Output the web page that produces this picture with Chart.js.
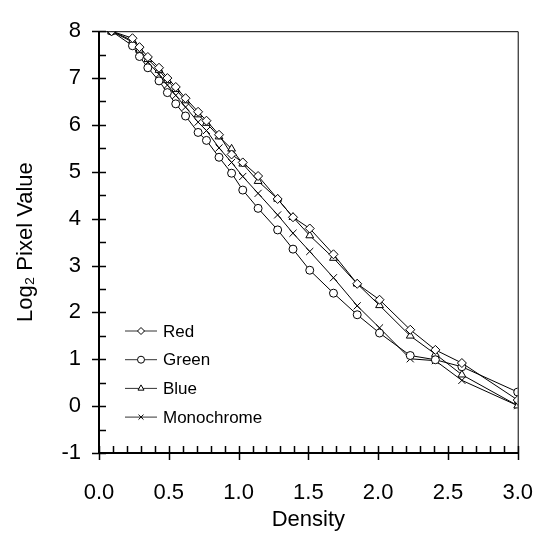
<!DOCTYPE html>
<html>
<head>
<meta charset="utf-8">
<title>Log2 Pixel Value vs Density</title>
<script src="https://cdn.jsdelivr.net/npm/chart.js@4.4.0/dist/chart.umd.min.js"></script>
<style>
  html, body { margin: 0; padding: 0; background: #fff; }
  #wrap { width: 560px; height: 539px; }
</style>
</head>
<body>
<div id="wrap"><canvas id="densityChart" width="560" height="539"></canvas></div>
<script>
// ------------------------------------------------------- //
// Data
// ------------------------------------------------------ //
var densities = [0.09, 0.24, 0.29, 0.35, 0.43, 0.49, 0.55, 0.62, 0.71, 0.77, 0.86, 0.95,
                 1.03, 1.14, 1.28, 1.39, 1.51, 1.68, 1.85, 2.01, 2.23, 2.41, 2.60, 3.00];
var redValues = [8.00, 7.85, 7.66, 7.45, 7.22, 7.00, 6.81, 6.57, 6.28, 6.09, 5.79, 5.37,
                 5.20, 4.91, 4.42, 4.03, 3.79, 3.24, 2.61, 2.27, 1.63, 1.20, 0.92, 0.13];
var greenValues = [8.00, 7.69, 7.46, 7.22, 6.94, 6.69, 6.45, 6.19, 5.84, 5.67, 5.31, 4.97,
                   4.61, 4.22, 3.76, 3.35, 2.90, 2.41, 1.95, 1.56, 1.08, 0.99, 0.84, 0.30];
var blueValues = [8.00, 7.80, 7.60, 7.40, 7.17, 6.95, 6.76, 6.52, 6.22, 6.04, 5.75, 5.49,
                  5.17, 4.80, 4.42, 4.03, 3.64, 3.16, 2.61, 2.15, 1.50, 1.11, 0.67, 0.01];
var monoValues = [8.00, 7.77, 7.56, 7.34, 7.08, 6.85, 6.63, 6.38, 6.06, 5.88, 5.51, 5.20,
                  4.90, 4.54, 4.08, 3.69, 3.30, 2.74, 2.14, 1.67, 1.01, 0.97, 0.55, 0.01];

var seriesNames = ['Red', 'Green', 'Blue', 'Monochrome'];
var seriesMarkers = ['rectRot', 'circle', 'triangle', 'crossRot'];

var fontFamily = '"Liberation Sans", Arial, Helvetica, sans-serif';

function toPoints(values) {
    var pts = [];
    for (var i = 0; i < densities.length; i++) {
        pts.push({ x: densities[i], y: values[i] });
    }
    return pts;
}

function makeSet(idx, values, radius) {
    return {
        label: seriesNames[idx],
        data: toPoints(values),
        borderColor: '#000',
        borderWidth: 1,
        backgroundColor: '#fff',
        pointStyle: seriesMarkers[idx],
        pointRadius: radius,
        pointBorderColor: '#000',
        pointBackgroundColor: '#fff',
        pointBorderWidth: 1,
        tension: 0,
        fill: false
    };
}

// ------------------------------------------------------- //
// Frame, tick marks and in-plot legend
// ------------------------------------------------------ //
var framePlugin = {
    id: 'frame',
    afterDraw: function (chart) {
        var ctx = chart.ctx;
        var xs = chart.scales.x;
        var ys = chart.scales.y;
        var left = xs.getPixelForValue(0), right = xs.getPixelForValue(3);
        var top = ys.getPixelForValue(8), bottom = ys.getPixelForValue(-1);
        var v, p;

        ctx.save();
        ctx.strokeStyle = '#000';

        // top + right border
        ctx.lineWidth = 1;
        ctx.beginPath();
        ctx.moveTo(left, top + 0.5);
        ctx.lineTo(right + 0.5, top + 0.5);
        ctx.lineTo(right + 0.5, bottom);
        ctx.stroke();

        // left + bottom axes
        ctx.lineWidth = 2;
        ctx.beginPath();
        ctx.moveTo(left, top);
        ctx.lineTo(left, bottom);
        ctx.lineTo(right + 1, bottom);
        ctx.stroke();

        // y ticks: integers cross the axis, halves point inward
        ctx.lineWidth = 1.5;
        ctx.beginPath();
        for (v = -1; v <= 8; v += 0.5) {
            p = Math.round(ys.getPixelForValue(v)) + 0.5;
            if (v % 1 === 0) {
                ctx.moveTo(left - 7, p);
            } else {
                ctx.moveTo(left, p);
            }
            ctx.lineTo(left + 7, p);
        }
        // x ticks: every 0.1 inward, every 0.5 crossing
        for (var k = 0; k <= 30; k++) {
            p = Math.round(xs.getPixelForValue(k / 10)) + 0.5;
            ctx.moveTo(p, bottom - 7);
            if (k % 5 === 0) {
                ctx.lineTo(p, bottom + 7);
            } else {
                ctx.lineTo(p, bottom);
            }
        }
        ctx.stroke();

        // legend inside the plot
        ctx.font = '17px ' + fontFamily;
        ctx.textBaseline = 'middle';
        ctx.textAlign = 'left';
        chart.data.datasets.forEach(function (ds, i) {
            var ly = 331 + i * 28.7;
            ctx.strokeStyle = '#333';
            ctx.lineWidth = 1;
            ctx.beginPath();
            ctx.moveTo(125, ly);
            ctx.lineTo(157, ly);
            ctx.stroke();
            ctx.fillStyle = '#fff';
            ctx.strokeStyle = '#000';
            Chart.helpers.drawPoint(ctx, {
                pointStyle: ds.pointStyle,
                radius: 3.5,
                borderWidth: 1
            }, 141, ly);
            ctx.fillStyle = '#000';
            ctx.fillText(ds.label, 163, ly + 1);
        });
        ctx.restore();
    }
};

var myChart = new Chart(document.getElementById('densityChart'), {
    type: 'line',
    data: {
        datasets: [
            makeSet(0, redValues, 4.5),
            makeSet(1, greenValues, 4),
            makeSet(2, blueValues, 4.5),
            makeSet(3, monoValues, 5)
        ]
    },
    options: {
        responsive: false,
        animation: false,
        layout: { padding: { left: 0, right: 21, top: 13, bottom: 0 } },
        plugins: {
            legend: { display: false },
            tooltip: { enabled: false }
        },
        scales: {
            x: {
                type: 'linear',
                min: 0,
                max: 3,
                grid: { display: false, drawTicks: false },
                border: { display: false },
                ticks: {
                    stepSize: 0.5,
                    padding: 27,
                    color: '#000',
                    font: { family: fontFamily, size: 22 },
                    maxRotation: 0,
                    callback: function (val) { return Number(val).toFixed(1); }
                },
                title: {
                    display: true,
                    text: 'Density',
                    color: '#000',
                    font: { family: fontFamily, size: 22 },
                    padding: { top: 0, bottom: 6 }
                },
                afterFit: function (scale) { scale.height = 86; }
            },
            y: {
                type: 'linear',
                min: -1,
                max: 8,
                grid: { display: false, drawTicks: false },
                border: { display: false },
                ticks: {
                    stepSize: 1,
                    padding: 18,
                    color: '#000',
                    font: { family: fontFamily, size: 22 }
                },
                title: {
                    display: true,
                    text: 'Log\u2082 Pixel Value',
                    color: '#000',
                    font: { family: fontFamily, size: 22 },
                    padding: { top: 13, bottom: 0 }
                },
                afterFit: function (scale) { scale.width = 99; }
            }
        }
    },
    plugins: [framePlugin]
});
</script>
</body>
</html>
